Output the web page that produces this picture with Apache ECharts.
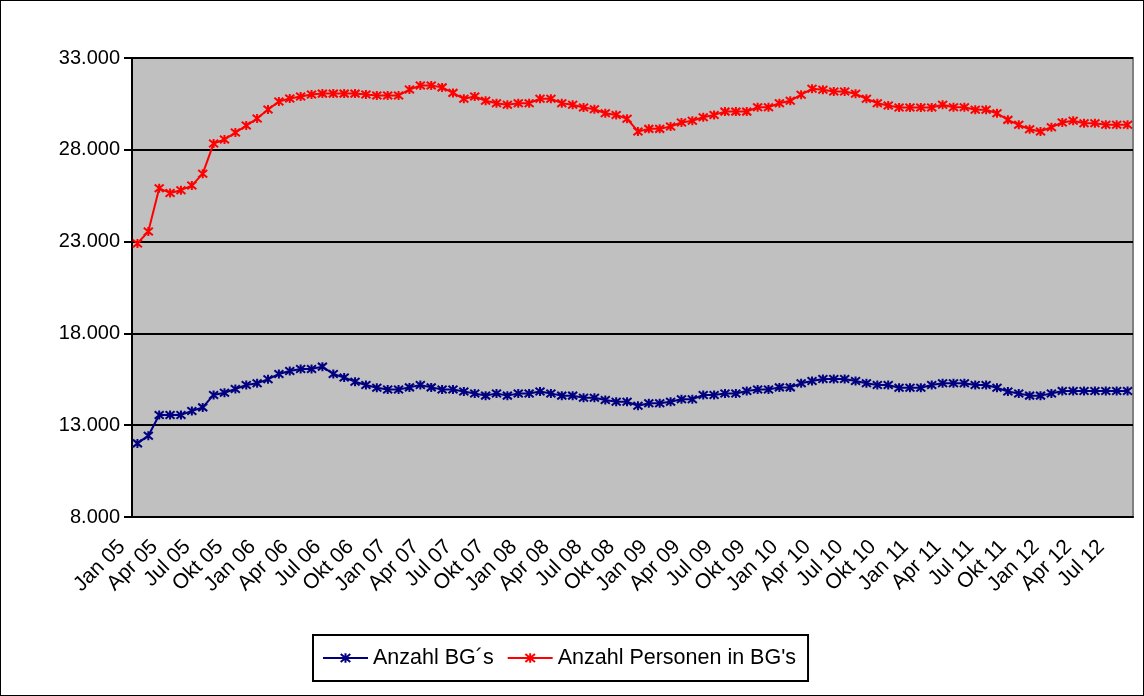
<!DOCTYPE html>
<html>
<head>
<meta charset="utf-8">
<script src="https://cdn.jsdelivr.net/npm/echarts@6/dist/echarts.min.js"></script>
<style>
  html, body { margin: 0; padding: 0; background: #fff; }
  #chart { width: 1144px; height: 696px; box-sizing: border-box; border: 1px solid #000; }
</style>
</head>
<body>
<div id="chart"></div>
<script>
// Monate Jan 05 .. Aug 12
var monthNames = ["Jan", "Feb", "Mrz", "Apr", "Mai", "Jun", "Jul", "Aug", "Sep", "Okt", "Nov", "Dez"];
var years = ["05", "06", "07", "08", "09", "10", "11", "12"];
var lastMonthCount = 8; // 2012 bis August
var categories = [];
years.forEach(function (y, yi) {
  var n = yi === years.length - 1 ? lastMonthCount : 12;
  for (var m = 0; m < n; m++) categories.push(monthNames[m] + " " + y);
});

var anzahlBG = [
  12010, 12430, 13560, 13560, 13560, 13770, 13970, 14650, 14770, 14970, 15190, 15280,
  15500, 15790, 15950, 16060, 16060, 16190, 15790, 15600, 15370, 15190, 15040, 14950,
  14950, 15060, 15190, 15060, 14950, 14950, 14830, 14730, 14610, 14730, 14610, 14730,
  14730, 14830, 14730, 14610, 14610, 14500, 14500, 14370, 14280, 14280, 14060, 14190,
  14190, 14280, 14410, 14410, 14650, 14650, 14730, 14730, 14860, 14950, 14950, 15060,
  15060, 15280, 15410, 15520, 15520, 15520, 15410, 15280, 15190, 15190, 15040, 15040,
  15040, 15190, 15280, 15280, 15280, 15190, 15190, 15040, 14830, 14730, 14610, 14610,
  14730, 14860, 14860, 14860, 14860, 14860, 14860, 14860
];

var anzahlPersonen = [
  22900, 23550, 25900, 25650, 25800, 26050, 26700, 28340, 28560, 28940, 29320, 29700,
  30190, 30630, 30790, 30900, 31010, 31060, 31060, 31060, 31060, 31010, 30960, 30960,
  30960, 31280, 31500, 31500, 31400, 31100, 30780, 30900, 30670, 30540, 30450, 30540,
  30540, 30780, 30780, 30540, 30450, 30300, 30210, 29990, 29900, 29690, 29000, 29140,
  29140, 29270, 29490, 29580, 29770, 29900, 30080, 30080, 30080, 30320, 30320, 30540,
  30670, 31000, 31320, 31270, 31170, 31170, 31050, 30780, 30540, 30410, 30300, 30300,
  30300, 30300, 30450, 30320, 30320, 30180, 30180, 29990, 29630, 29360, 29120, 29000,
  29230, 29490, 29580, 29450, 29450, 29360, 29360, 29360
];

var yTicks = [8000, 13000, 18000, 23000, 28000, 33000];

var starPath = "path://M0,0L10,10M10,0L0,10M5,-1L5,11";
var font = "Liberation Sans, Arial, sans-serif";

var myChart = echarts.init(document.getElementById("chart"));
var option = {
  animation: false,
  backgroundColor: "#fff",
  grid: {
    left: 131,
    right: 10,
    top: 57,
    bottom: 178,
    show: true,
    backgroundColor: "#C0C0C0",
    borderColor: "#808080",
    borderWidth: 2,
    outerBoundsMode: "none"
  },
  legend: {
    left: 312,
    top: 634,
    padding: [12, 12, 12, 9],
    itemGap: 13,
    itemWidth: 45,
    itemHeight: 12,
    borderColor: "#000",
    borderWidth: 2,
    textStyle: { fontSize: 21.5, fontFamily: font, color: "#000" },
    data: ["Anzahl BG´s", "Anzahl Personen in BG's"]
  },
  xAxis: {
    type: "category",
    boundaryGap: true,
    data: categories,
    axisLine: { lineStyle: { color: "#000", width: 2 } },
    axisTick: { interval: 2, length: 8, lineStyle: { color: "#000", width: 2 } },
    axisLabel: {
      interval: 2,
      rotate: 45,
      margin: 11,
      padding: [0, 22, 0, 0],
      fontSize: 21,
      fontFamily: font,
      color: "#000"
    },
    splitLine: { show: false }
  },
  yAxis: {
    type: "value",
    min: yTicks[0],
    max: yTicks[yTicks.length - 1],
    interval: 5000,
    axisLine: { show: true, lineStyle: { color: "#000", width: 2 } },
    axisTick: { show: true, length: 8, lineStyle: { color: "#000", width: 2 } },
    axisLabel: {
      margin: 12,
      fontSize: 20,
      fontFamily: font,
      color: "#000",
      formatter: function (v) { return (v / 1000).toFixed(3); }
    },
    splitLine: { lineStyle: { color: "#000", width: 2 } }
  },
  series: [
    {
      name: "Anzahl BG´s",
      type: "line",
      data: anzahlBG,
      symbol: starPath,
      symbolSize: 9,
      showAllSymbol: true,
      lineStyle: { color: "#000080", width: 2 },
      itemStyle: { color: "#000080", borderColor: "#000080", borderWidth: 2 }
    },
    {
      name: "Anzahl Personen in BG's",
      type: "line",
      data: anzahlPersonen,
      symbol: starPath,
      symbolSize: 9,
      showAllSymbol: true,
      lineStyle: { color: "#FF0000", width: 2 },
      itemStyle: { color: "#FF0000", borderColor: "#FF0000", borderWidth: 2 }
    }
  ]
};
myChart.setOption(option);
</script>
</body>
</html>
